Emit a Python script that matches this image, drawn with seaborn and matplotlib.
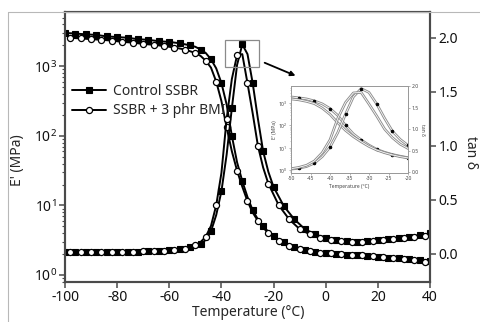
import numpy as np
import pandas as pd
import matplotlib
matplotlib.use("Agg")
import matplotlib.pyplot as plt
import seaborn as sns
from matplotlib.patches import Rectangle
from matplotlib.lines import Line2D
from matplotlib.ticker import FixedLocator, LogLocator, NullFormatter, FormatStrFormatter

# ---------------- data ----------------
temp_ctrl = [-100, -96, -92, -88, -84, -80, -76, -72, -68, -64, -60, -56, -52,
             -50, -48, -46, -44, -42, -40, -38, -36, -34, -32, -30, -28, -26, -24, -22, -20,
             -16, -12, -8, -4, 0, 4, 8, 12, 16, 20, 24, 28, 32, 36, 40]
modulus_ctrl = [3020, 2950, 2880, 2820, 2690, 2630, 2570, 2450, 2400, 2290, 2240, 2140, 2000,
                1905, 1740, 1550, 1260, 933, 575, 282, 100, 41.7, 22.4, 13.2, 8.5, 6.3, 5.0, 4.2, 3.6,
                2.95, 2.57, 2.29, 2.14, 2.04, 2.0, 1.95, 1.91, 1.86, 1.82, 1.78, 1.74, 1.70, 1.64, 1.58]
tand_ctrl = [0.02, 0.02, 0.02, 0.02, 0.02, 0.02, 0.02, 0.02, 0.025, 0.03, 0.035, 0.045, 0.06,
             0.07, 0.09, 0.13, 0.21, 0.36, 0.58, 0.92, 1.35, 1.75, 1.94, 1.85, 1.58, 1.25, 0.95, 0.76, 0.62,
             0.44, 0.32, 0.23, 0.18, 0.15, 0.13, 0.12, 0.115, 0.12, 0.13, 0.14, 0.15, 0.16, 0.175, 0.19]

temp_bmi = [-98, -94, -90, -86, -82, -78, -74, -70, -66, -62, -58, -54, -50,
            -48, -46, -44, -42, -40, -38, -36, -34, -32, -30, -28, -26, -24, -22,
            -18, -14, -10, -6, -2, 2, 6, 10, 14, 18, 22, 26, 30, 34, 38]
modulus_bmi = [2570, 2510, 2455, 2400, 2340, 2240, 2190, 2090, 2040, 1950, 1860, 1740, 1550,
               1410, 1200, 955, 603, 316, 132, 60, 31.6, 18.6, 11.5, 7.9, 6.0, 4.8, 4.0,
               3.1, 2.63, 2.34, 2.19, 2.09, 2.04, 2.0, 1.95, 1.91, 1.86, 1.82, 1.76, 1.70, 1.62, 1.55]
tand_bmi = [0.02, 0.02, 0.02, 0.02, 0.02, 0.02, 0.02, 0.025, 0.025, 0.03, 0.04, 0.05, 0.08,
            0.11, 0.16, 0.26, 0.45, 0.75, 1.25, 1.62, 1.84, 1.85, 1.58, 1.30, 1.00, 0.80, 0.65,
            0.45, 0.32, 0.23, 0.18, 0.15, 0.13, 0.12, 0.115, 0.115, 0.12, 0.13, 0.14, 0.15, 0.16, 0.17]

series_labels = ["Control SSBR", "SSBR + 3 phr BMI"]
x_ticks = [-100, -80, -60, -40, -20, 0, 20, 40]
tand_ticks = [0.0, 0.5, 1.0, 1.5, 2.0]
inset_x_ticks = [-50, -45, -40, -35, -30, -25, -20]

# ---------------- style ----------------
sns.set_style("ticks")
plt.rcParams["font.family"] = ["Noto Sans", "DejaVu Sans"]
plt.rcParams["mathtext.fontset"] = "custom"
plt.rcParams["mathtext.rm"] = "Noto Sans"
plt.rcParams["mathtext.it"] = "Noto Sans:italic"
plt.rcParams["mathtext.bf"] = "Noto Sans:bold"
plt.rcParams["axes.unicode_minus"] = False

SP = "#4a4a4a"
W, H = 481, 322
fig = plt.figure(figsize=(W / 100, H / 100), dpi=100)
fig.patch.set_facecolor("white")

# frame lines of the original screenshot
fig.add_artist(Line2D([8 / W, 8 / W], [0, 1 - 12 / H], color="#b8b8b8", lw=0.8))
fig.add_artist(Line2D([8 / W, 1], [1 - 12 / H, 1 - 12 / H], color="#b8b8b8", lw=0.8))

ax = fig.add_axes([65 / W, 1 - 282 / H, 365 / W, 270 / H])
ax2 = ax.twinx()


def mark_idx(t):
    return [i for i, v in enumerate(t) if (v - t[0]) % 4 == 0]


df_c = pd.DataFrame({"T": temp_ctrl, "E": modulus_ctrl, "tand": tand_ctrl})
df_b = pd.DataFrame({"T": temp_bmi, "E": modulus_bmi, "tand": tand_bmi})

common = dict(color="black", lw=1.4, estimator=None, sort=False)
sq = dict(marker="s", markersize=3.8, markerfacecolor="black", markeredgecolor="black", markeredgewidth=0.8)
ci = dict(marker="o", markersize=4.4, markerfacecolor="white", markeredgecolor="black", markeredgewidth=0.9)

sns.lineplot(data=df_c, x="T", y="E", ax=ax, label=series_labels[0],
             markevery=mark_idx(temp_ctrl), **common, **sq)
sns.lineplot(data=df_b, x="T", y="E", ax=ax, label=series_labels[1],
             markevery=mark_idx(temp_bmi), **common, **ci)
sns.lineplot(data=df_c, x="T", y="tand", ax=ax2, legend=False,
             markevery=mark_idx(temp_ctrl), **common, **sq)
sns.lineplot(data=df_b, x="T", y="tand", ax=ax2, legend=False,
             markevery=mark_idx(temp_bmi), **common, **ci)

ax.set_yscale("log")
ax.set_xlim(-100, 40)
ax.set_ylim(10 ** -0.1, 10 ** 3.78)
ax2.set_ylim(-0.26, 2.24)
ax.set_xlabel("")
ax.set_ylabel("")
ax2.set_ylabel("")
ax.xaxis.set_major_locator(FixedLocator(x_ticks))
ax.yaxis.set_major_locator(LogLocator(base=10, numticks=10))
ax.yaxis.set_minor_locator(LogLocator(base=10, subs=np.arange(2, 10), numticks=10))
ax.yaxis.set_minor_formatter(NullFormatter())
ax2.yaxis.set_major_locator(FixedLocator(tand_ticks))
ax2.yaxis.set_major_formatter(FormatStrFormatter("%.1f"))

for a in (ax, ax2):
    for s in a.spines.values():
        s.set_color(SP)
        s.set_linewidth(1.5)
    a.tick_params(which="major", direction="out", length=4, width=1.1, color=SP,
                  labelsize=10, labelcolor="#111111", pad=2)
ax.tick_params(which="minor", direction="out", length=2, width=0.8, color=SP)

# legend
leg = ax.legend(loc="upper left", bbox_to_anchor=(0.02, 0.735), frameon=False,
                fontsize=10, handlelength=2.45, handletextpad=0.45,
                labelspacing=0.35, borderpad=0, borderaxespad=0)

# highlight box and arrow
ax2.add_patch(Rectangle((-38.6, 1.73), 13.0, 0.25, fill=False, edgecolor="#8a8a8a", lw=0.9, zorder=5))
ax2.annotate("", xy=(-10.6, 1.64), xytext=(-24.4, 1.78),
             arrowprops=dict(arrowstyle="-|>", color="black", lw=1.3, mutation_scale=7))

# axis labels
fig.text(17 / W, 1 - 160 / H, "E' (MPa)", rotation=90, ha="center", va="center", fontsize=10)
fig.text(471 / W, 1 - 153 / H, "tan δ", rotation=270, ha="center", va="center", fontsize=10)
fig.text(248 / W, 1 - 313 / H, "Temperature (°C)", ha="center", va="center", fontsize=10)

# ---------------- inset ----------------
ins = fig.add_axes([291 / W, 1 - 173 / H, 117 / W, 87 / H], zorder=6)
ins.set_facecolor("white")
ins2 = ins.twinx()
ins2.set_zorder(7)
GR = "#8c8c8c"
for d, t, with_marks in ((df_c, temp_ctrl, True), (df_b, temp_bmi, False)):
    for a, col in ((ins, "E"), (ins2, "tand")):
        sns.lineplot(data=d, x="T", y=col, ax=a, legend=False, estimator=None, sort=False,
                     color=GR, lw=1.9)
        sns.lineplot(data=d, x="T", y=col, ax=a, legend=False, estimator=None, sort=False,
                     color="white", lw=0.6)
        if with_marks:
            sns.lineplot(data=d, x="T", y=col, ax=a, legend=False, estimator=None, sort=False,
                         color=GR, lw=0, marker="o", markersize=1.8, markerfacecolor="black",
                         markeredgecolor="black", markevery=mark_idx(t))
ins.set_yscale("log")
ins.set_xlim(-50, -20)
ins.set_ylim(10 ** -0.13, 10 ** 3.77)
ins2.set_ylim(-0.02, 2.0)
ins.xaxis.set_major_locator(FixedLocator(inset_x_ticks))
ins.yaxis.set_major_locator(LogLocator(base=10, numticks=10))
ins.yaxis.set_minor_locator(LogLocator(base=10, subs=np.arange(2, 10), numticks=10))
ins.yaxis.set_minor_formatter(NullFormatter())
ins2.yaxis.set_major_locator(FixedLocator(tand_ticks))
ins2.yaxis.set_major_formatter(FormatStrFormatter("%.1f"))
for a in (ins, ins2):
    for s in a.spines.values():
        s.set_color("#9a9a9a")
        s.set_linewidth(0.7)
    a.tick_params(which="major", direction="out", length=1.5, width=0.5, color="#9a9a9a",
                  labelsize=3.6, labelcolor="#444444", pad=1)
    a.set_xlabel("")
    a.set_ylabel("")
ins.tick_params(which="minor", length=0.8, width=0.4, color="#9a9a9a")
ins.set_xlabel("Temperature (°C)", fontsize=3.6, color="#444444", labelpad=1.5)
ins.set_ylabel("E' (MPa)", fontsize=3.6, color="#444444", labelpad=1)
ins2.set_ylabel("tan δ", fontsize=3.6, color="#444444", labelpad=1, rotation=270, va="bottom")

fig.savefig("out.png", dpi=100, facecolor="white")
